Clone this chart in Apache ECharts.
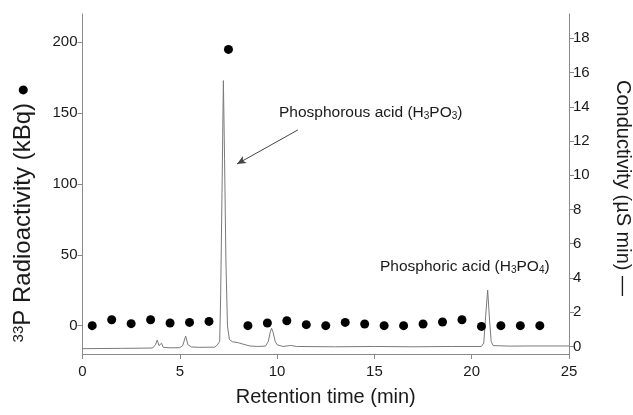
<!DOCTYPE html>
<html>
<head>
<meta charset="utf-8">
<script src="https://cdn.jsdelivr.net/npm/echarts@6/dist/echarts.min.js"></script>
<style>
  html, body { margin: 0; padding: 0; background: #fff; }
  #main { width: 633px; height: 415px; }
</style>
</head>
<body>
<div id="main"></div>
<script>
// radioactivity fractions (kBq), one per minute
var fractionTimes = [0.5, 1.5, 2.5, 3.5, 4.5, 5.5, 6.5, 7.5, 8.5, 9.5, 10.5, 11.5,
	12.5, 13.5, 14.5, 15.5, 16.5, 17.5, 18.5, 19.5, 20.5, 21.5, 22.5, 23.5];
var radioactivity = [0, 4.2, 1.4, 4.2, 1.9, 2.3, 3, 195, 0, 1.9, 3.5, 0.7,
	0, 2.3, 1.2, 0, 0, 1.2, 2.6, 4.2, -0.5, 0, 0, 0];

// conductivity trace (min, µS)
var traceTimes = [0, 1, 2, 3, 3.6, 3.75, 3.84, 3.93, 4.0, 4.06, 4.15, 4.5,
	5.0, 5.15, 5.3, 5.42, 5.6, 6.0, 6.8, 6.93, 7.0, 7.05, 7.1, 7.17, 7.24, 7.3,
	7.37, 7.45, 7.55, 7.7, 8.0, 8.3, 8.6, 9.0, 9.4, 9.55, 9.65, 9.72, 9.8, 9.9,
	10.0, 10.3, 10.7, 11.0, 13, 15, 17, 19, 20.5, 20.62, 20.7, 20.82, 20.92,
	21.0, 21.1, 22, 23, 25];
var conductivity = [-0.13, -0.12, -0.11, -0.1, -0.09, 0.1, 0.38, 0.05, 0.08, 0.19, -0.05, -0.08,
	-0.07, 0.05, 0.61, 0.1, -0.03, -0.05, -0.04, 0.09, 0.05, 0.3, 3.0, 9.0, 15.53, 11.0,
	5.0, 1.2, 0.4, 0.28, 0.22, 0.12, 0.03, 0.0, 0.02, 0.3, 0.85, 1.06, 0.8, 0.3,
	0.1, 0.0, 0.06, 0.0, -0.02, 0.0, -0.02, 0.0, 0.0, 0.2, 1.5, 3.3, 1.5,
	0.3, 0.05, 0.02, 0.03, 0.03];

var xTicks = [0, 5, 10, 15, 20, 25];
var leftTicks = [0, 50, 100, 150, 200];
var rightTicks = [0, 2, 4, 6, 8, 10, 12, 14, 16, 18];

// arrow pointing at the H3PO3 peak (min, µS)
var arrowFrom = [11.07, 12.65];
var arrowTo = [7.94, 10.66];

var dots = fractionTimes.map(function (t, i) { return [t, radioactivity[i]]; });
var trace = traceTimes.map(function (t, i) { return [t, conductivity[i]]; });

var axisGray = '#8a8a8a';
var textColor = '#1a1a1a';
var font = 'Liberation Sans, Arial, sans-serif';

var myChart = echarts.init(document.getElementById('main'));

var option = {
	animation: false,
	textStyle: { fontFamily: font },
	grid: { left: 82.5, right: 64, top: 14, bottom: 61, outerBoundsMode: 'none', containLabel: false },
	xAxis: {
		type: 'value',
		min: 0,
		max: 25,
		interval: 5,
		name: 'Retention time (min)',
		nameLocation: 'middle',
		nameGap: 33,
		nameTextStyle: { fontSize: 20, color: textColor, fontFamily: font },
		axisLine: { onZero: false, lineStyle: { color: axisGray, width: 1 } },
		axisTick: { inside: false, length: 5, customValues: xTicks, lineStyle: { color: axisGray } },
		axisLabel: { fontSize: 15, color: textColor, margin: 10, customValues: xTicks, fontFamily: font },
		splitLine: { show: false }
	},
	yAxis: [{
		type: 'value',
		position: 'left',
		min: -20,
		max: 220,
		name: '{sup|33}P Radioactivity (kBq) {dot|●}',
		nameLocation: 'middle',
		nameGap: 47,
		nameTextStyle: {
			fontSize: 24, color: textColor, fontFamily: font,
			padding: [0, 58, 0, 0],
			rich: {
				sup: { fontSize: 15, verticalAlign: 'top', color: textColor, fontFamily: font },
				dot: { fontSize: 21, color: '#000' }
			}
		},
		axisLine: { show: true, onZero: false, lineStyle: { color: axisGray, width: 1 } },
		axisTick: { show: true, length: 5, customValues: leftTicks, lineStyle: { color: axisGray } },
		axisLabel: { fontSize: 15, color: textColor, margin: 5, customValues: leftTicks, fontFamily: font },
		splitLine: { show: false }
	}, {
		type: 'value',
		position: 'right',
		min: -0.44,
		max: 19.42,
		name: 'Conductivity (µS min) —',
		nameLocation: 'middle',
		nameGap: 44,
		nameRotate: -90,
		nameTextStyle: { fontSize: 20, color: textColor, fontFamily: font, padding: [0, 0, 0, 8] },
		axisLine: { show: true, onZero: false, lineStyle: { color: axisGray, width: 1 } },
		axisTick: { show: true, length: 5, customValues: rightTicks, lineStyle: { color: axisGray } },
		axisLabel: { fontSize: 15, color: textColor, margin: 4, customValues: rightTicks, fontFamily: font },
		splitLine: { show: false }
	}],
	graphic: [{
		type: 'text',
		left: 279,
		top: 105,
		style: {
			text: 'Phosphorous acid (H{sub|3}PO{sub|3})',
			font: '15.5px ' + font,
			fill: textColor,
			rich: {
				sub: { fontSize: 10, verticalAlign: 'bottom', fill: textColor, fontFamily: font }
			}
		}
	}, {
		type: 'text',
		left: 380,
		top: 259,
		style: {
			text: 'Phosphoric acid (H{sub|3}PO{sub|4})',
			font: '15.5px ' + font,
			fill: textColor,
			rich: {
				sub: { fontSize: 10, verticalAlign: 'bottom', fill: textColor, fontFamily: font }
			}
		}
	}],
	series: [{
		name: 'Conductivity',
		type: 'line',
		yAxisIndex: 1,
		data: trace,
		showSymbol: false,
		lineStyle: { color: '#7a7a7a', width: 1 },
		z: 2,
		markLine: {
			silent: true,
			symbol: ['none', 'arrow'],
			symbolSize: [6, 9],
			label: { show: false },
			lineStyle: { color: '#444', width: 1, type: 'solid' },
			data: [[{ coord: arrowFrom }, { coord: arrowTo }]]
		}
	}, {
		name: 'Radioactivity',
		type: 'scatter',
		yAxisIndex: 0,
		data: dots,
		symbol: 'circle',
		symbolSize: 9,
		itemStyle: { color: '#000', opacity: 1 },
		z: 3
	}]
};

myChart.setOption(option);
</script>
</body>
</html>
